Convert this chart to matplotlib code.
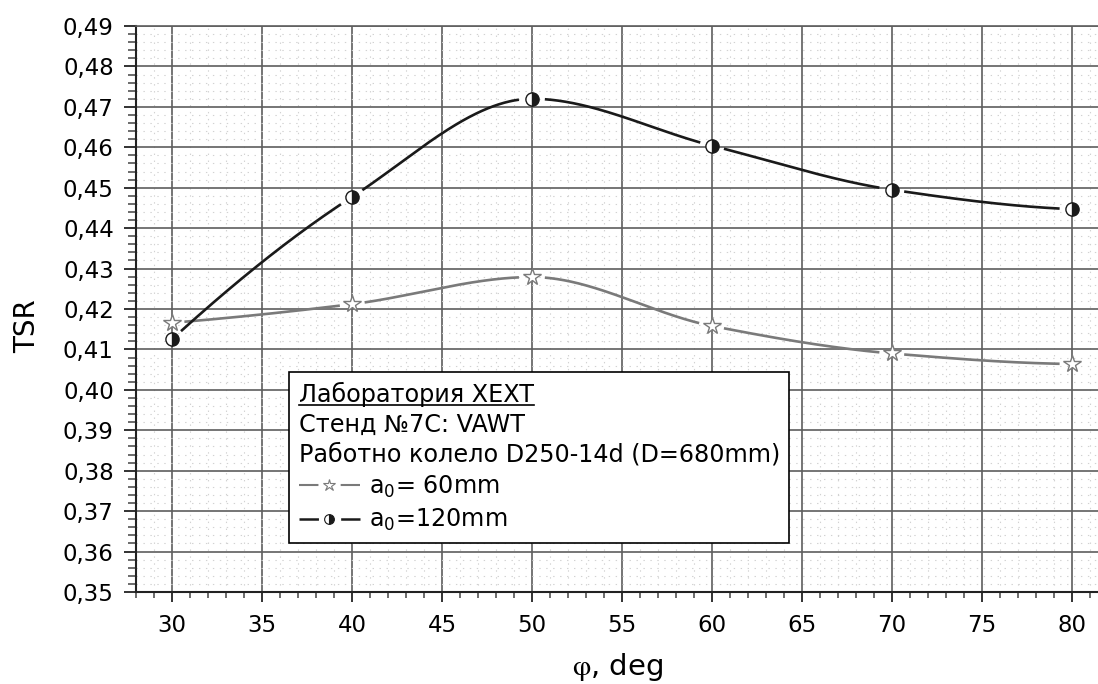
import numpy as np
import matplotlib
matplotlib.use('Agg')
import matplotlib.pyplot as plt
from matplotlib.lines import Line2D
from matplotlib.ticker import MultipleLocator, FuncFormatter

plt.rcParams['font.family'] = ['DejaVu Sans']
plt.rcParams['mathtext.fontset'] = 'stix'
plt.rcParams['lines.scale_dashes'] = False

# data
phi = [30, 40, 50, 60, 70, 80]
tsr_60 = [0.4166, 0.4212, 0.4279, 0.4158, 0.4090, 0.4064]
tsr_120 = [0.4125, 0.4477, 0.4720, 0.4604, 0.4495, 0.4447]

legend_title = 'Лаборатория XEXT\nСтенд №7C: VAWT\nРаботно колело D250-14d (D=680mm)'
labels = ['a$\\mathregular{_0}$= 60mm', 'a$\\mathregular{_0}$=120mm']

GRAY = '#7a7a7a'
BLACK = '#1a1a1a'


def pchip(x, y, xs):
    # monotone cubic (Fritsch-Carlson) used only to draw a smooth line
    x = np.asarray(x, float)
    y = np.asarray(y, float)
    h = np.diff(x)
    d = np.diff(y) / h
    n = len(x)
    m = np.zeros(n)
    for k in range(1, n - 1):
        if d[k - 1] * d[k] > 0:
            w1 = 2 * h[k] + h[k - 1]
            w2 = h[k] + 2 * h[k - 1]
            m[k] = (w1 + w2) / (w1 / d[k - 1] + w2 / d[k])
    m[0] = ((2 * h[0] + h[1]) * d[0] - h[0] * d[1]) / (h[0] + h[1])
    if np.sign(m[0]) != np.sign(d[0]):
        m[0] = 0
    m[-1] = ((2 * h[-1] + h[-2]) * d[-1] - h[-1] * d[-2]) / (h[-1] + h[-2])
    if np.sign(m[-1]) != np.sign(d[-1]):
        m[-1] = 0
    idx = np.clip(np.searchsorted(x, xs) - 1, 0, n - 2)
    t = (xs - x[idx]) / h[idx]
    h00 = 2 * t**3 - 3 * t**2 + 1
    h10 = t**3 - 2 * t**2 + t
    h01 = -2 * t**3 + 3 * t**2
    h11 = t**3 - t**2
    return (h00 * y[idx] + h10 * h[idx] * m[idx]
            + h01 * y[idx + 1] + h11 * h[idx] * m[idx + 1])


fig = plt.figure(figsize=(10.98, 6.84), dpi=100)
ax = fig.add_axes([136 / 1098, 1 - 592 / 684, 962 / 1098, 566 / 684])
ax.set_xlim(28, 28 + 962 / 18)
ax.set_ylim(0.35, 0.49)

ax.xaxis.set_major_locator(MultipleLocator(5))
ax.xaxis.set_minor_locator(MultipleLocator(1))
ax.yaxis.set_major_locator(MultipleLocator(0.01))
ax.yaxis.set_minor_locator(MultipleLocator(0.002))
ax.yaxis.set_major_formatter(FuncFormatter(lambda v, p: f'{v:.2f}'.replace('.', ',')))

ax.set_axisbelow(True)
ax.grid(which='major', color='#5e5e5e', lw=1.2)
ax.grid(which='minor', color='#d2d2d2', lw=0.8, ls=(0, (1, 4)))

for s in ['left', 'bottom']:
    ax.spines[s].set_color('#222222')
    ax.spines[s].set_linewidth(1.5)
ax.spines['right'].set_visible(False)
ax.spines['top'].set_color('#5e5e5e')
ax.spines['top'].set_linewidth(1.2)

ax.tick_params(axis='y', which='major', length=9, width=1.3, pad=7, labelsize=16.5, color='#222222')
ax.tick_params(axis='y', which='minor', length=5.5, width=1.1, color='#444444')
ax.tick_params(axis='x', which='major', length=7.5, width=1.3, pad=8, labelsize=16.5, color='#222222')
ax.tick_params(axis='x', which='minor', length=4, width=1.1, color='#444444')

xs = np.linspace(30, 80, 800)


def draw_series(vals, color, lw, gap, **mk):
    ys = pchip(phi, vals, xs)
    pix = ax.transData.transform(np.column_stack([xs, ys]))
    mpix = ax.transData.transform(np.column_stack([phi, vals]))
    dist = np.min(np.hypot(pix[:, None, 0] - mpix[None, :, 0],
                           pix[:, None, 1] - mpix[None, :, 1]), axis=1)
    ys = np.where(dist < gap, np.nan, ys)
    ax.plot(xs, ys, color=color, lw=lw, solid_capstyle='butt')
    ax.plot(phi, vals, ls='none', **mk)


draw_series(tsr_60, GRAY, 1.9, 12, marker='*', ms=13, mfc='white', mec=GRAY, mew=1.0)
draw_series(tsr_120, BLACK, 1.9, 12, marker='o', ms=9.5, fillstyle='right',
            mfc=BLACK, markerfacecoloralt='white', mec=BLACK, mew=1.0)

ax.set_ylabel('TSR', fontsize=20)
ax.yaxis.set_label_coords(-0.099, 0.47)
ax.set_xlabel('$\\mathrm{\\varphi}$, deg', fontsize=21)
ax.xaxis.set_label_coords(0.5, -0.104)

h60 = Line2D([], [], color=GRAY, lw=1.5, dashes=(14, 16), marker='*', ms=9,
             mfc='white', mec=GRAY, mew=0.8)
h120 = Line2D([], [], color=BLACK, lw=1.8, dashes=(14, 16), marker='o', ms=7,
              fillstyle='right', mfc=BLACK, markerfacecoloralt='white', mec=BLACK, mew=0.8)

fs = 17.2
leg = ax.legend([h60, h120], labels, title=legend_title, alignment='left',
                loc='upper left', bbox_to_anchor=(0.159, 0.388), borderaxespad=0,
                fontsize=fs, title_fontsize=fs, fancybox=False, framealpha=1,
                edgecolor='black', handlelength=44 / fs, handletextpad=0.4,
                borderpad=0.4, labelspacing=0.3)
leg.get_frame().set_linewidth(1.2)
leg.get_title().set_linespacing(1.3)

# underline the first line of the legend title
fig.canvas.draw()
r = fig.canvas.get_renderer()
tb = leg.get_title().get_window_extent(r)
tmp = fig.text(0, 0, 'Лаборатория XEXT', fontsize=fs)
w = tmp.get_window_extent(r).width
tmp.remove()
em = fs * fig.dpi / 72
y_ul = tb.y1 - 0.95 * em
inv = fig.transFigure.inverted()
(x0, y0), (x1, _) = inv.transform([(tb.x0, y_ul), (tb.x0 + w, y_ul)])
fig.add_artist(Line2D([x0, x1], [y0, y0], transform=fig.transFigure, color='black', lw=1.2))

fig.savefig('out.png', dpi=100)
